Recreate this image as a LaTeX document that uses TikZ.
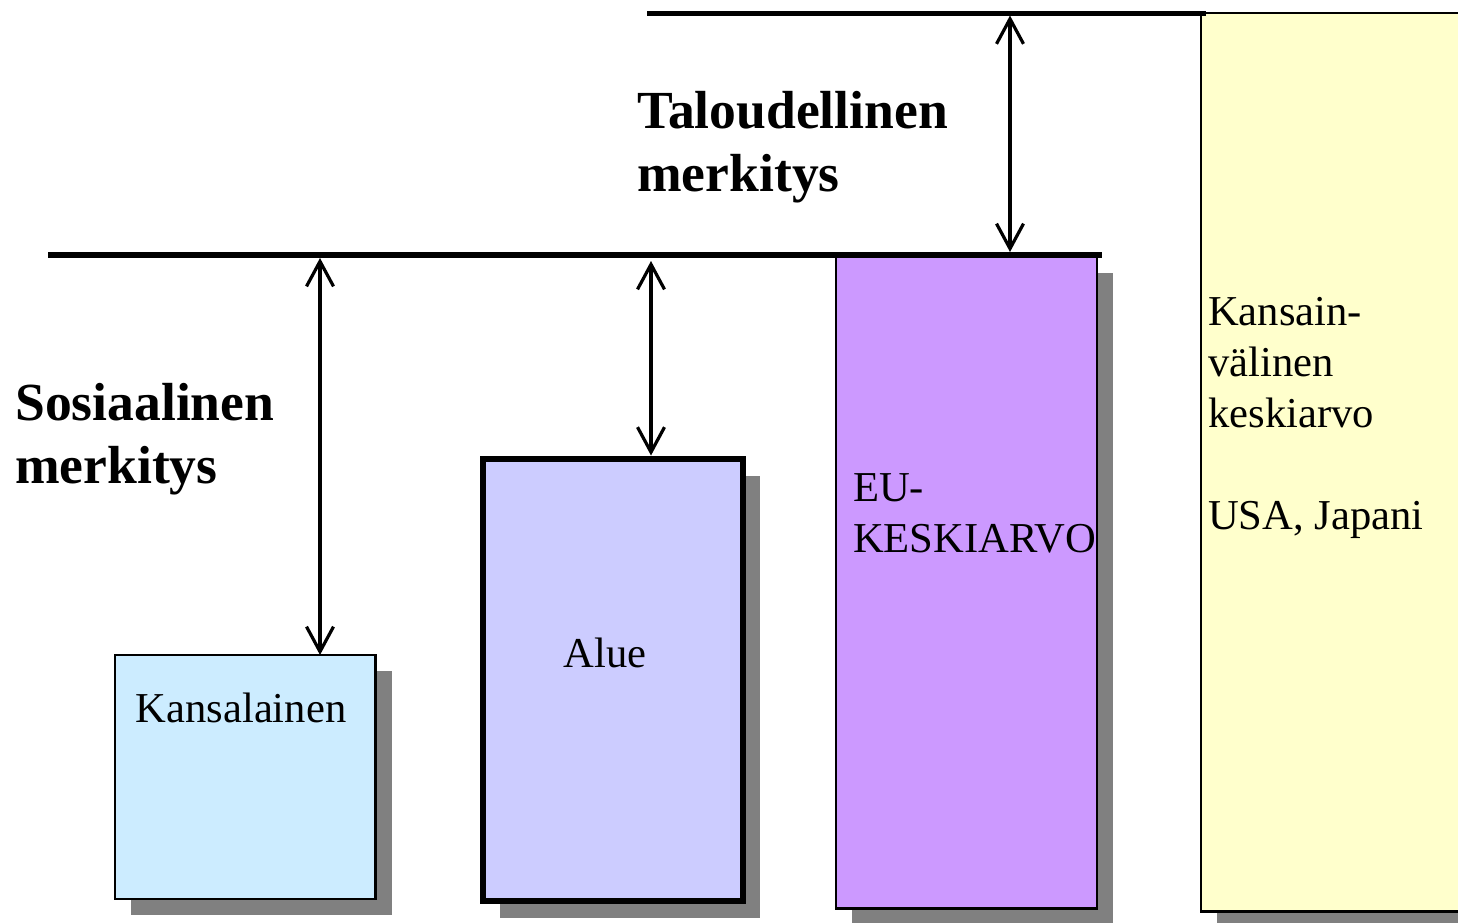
\documentclass[tikz,border=0pt]{standalone}
\usepackage{fontspec}
\setmainfont{Liberation Serif}
\usetikzlibrary{arrows.meta,shadows}
\definecolor{shadowgray}{HTML}{808080}
\definecolor{kansfill}{HTML}{CCECFF}
\definecolor{aluefill}{HTML}{CCCCFF}
\definecolor{eufill}{HTML}{CC99FF}
\definecolor{intlfill}{HTML}{FFFFCC}
\tikzset{
  boxbase/.style={draw=black, rectangle, inner sep=0pt, outer sep=0pt, anchor=north west},
  shad/.style={drop shadow={shadow xshift=#1pt, shadow yshift=-#1pt, fill=shadowgray, opacity=1}},
  bigline/.style={line width=#1pt, line cap=butt},
  dblarrow/.style={line width=3.2pt, {Straight Barb[length=25pt,width=27pt]}-{Straight Barb[length=25pt,width=27pt]}},
  boxtext/.style={inner sep=0pt, font=\fontsize{42.6}{51}\selectfont},
  boldtext/.style={inner sep=0pt, font=\fontsize{53.6}{63}\selectfont\bfseries, anchor=base west},
}
\begin{document}
\begin{tikzpicture}[x=1pt,y=-1pt]
\useasboundingbox (0,0) rectangle (1458,922);
\clip (0,0) rectangle (1458,922);
\fill[white] (0,0) rectangle (1458,922);

% boxes
\node[boxbase, shad=16, fill=intlfill, line width=2.2pt, minimum width=400pt, minimum height=898.5pt] (intl) at (1201,13) {};
\node[boxbase, shad=16, fill=eufill, line width=2.2pt, minimum width=261pt, minimum height=651.5pt] (eu) at (836,257) {};
\node[boxbase, shad=17, fill=aluefill, line width=6pt, minimum width=260pt, minimum height=442.5pt] (alue) at (483,458.5) {};
\node[boxbase, shad=16, fill=kansfill, line width=2.2pt, minimum width=260.5pt, minimum height=244pt] (kans) at (115,655) {};

% horizontal lines
\coordinate (topL) at (647,13.5);
\coordinate (topR) at (1206,13.5);
\coordinate (mainL) at (48,255);
\coordinate (mainR) at (1102,255);
\draw[bigline=4.5] (topL) -- (topR);
\draw[bigline=6] (mainL) -- (mainR);

% arrows
\coordinate (a1t) at (1010,15.5);
\coordinate (a1b) at (1010,252);
\coordinate (a2t) at (320,258);
\coordinate (a2b) at (320,655);
\coordinate (a3t) at (651,261);
\coordinate (a3b) at (651,455.5);
\draw[dblarrow] (a1t) -- (a1b);
\draw[dblarrow] (a2t) -- (a2b);
\draw[dblarrow] (a3t) -- (a3b);

% texts
\node[boldtext] (tal1) at (637,128) {Taloudellinen};
\node[boldtext] (tal2) at (637,191) {merkitys};
\node[boldtext] (sos1) at (15,420) {Sosiaalinen};
\node[boldtext] (sos2) at (15,483) {merkitys};

\node[boxtext, anchor=base] (kanst) at (241,722) {Kansalainen};
\node[boxtext, anchor=base] (aluet) at (605,667) {Alue};
\node[boxtext, anchor=base west] (eut1) at (853,501) {EU-};
\node[boxtext, anchor=base west] (eut2) at (853,552) {KESKIARVO};
\node[boxtext, anchor=base west] (int1) at (1208,325) {Kansain-};
\node[boxtext, anchor=base west] (int2) at (1208,376) {välinen};
\node[boxtext, anchor=base west] (int3) at (1208,427) {keskiarvo};
\node[boxtext, anchor=base west] (int4) at (1208,529) {USA, Japani};
\end{tikzpicture}
\end{document}
